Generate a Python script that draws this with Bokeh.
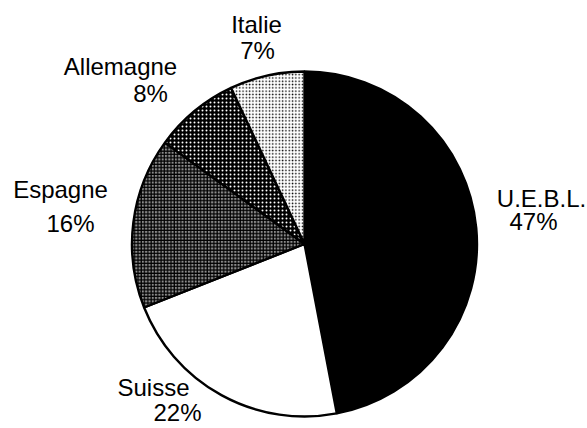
import math
from bokeh.plotting import figure
from bokeh.models import Range1d, ColumnDataSource
from bokeh.core.properties import value
from bokeh.embed import file_html
from bokeh.resources import INLINE

# ---- data ----
categories = ["U.E.B.L.", "Suisse", "Espagne", "Allemagne", "Italie"]
shares = [47, 22, 16, 8, 7]
pct_labels = ["47%", "22%", "16%", "8%", "7%"]

# ---- styles ----
fills = ["#000000", "#ffffff", "#8c8c8c", "#000000", "#ffffff"]
hatches = [" ", " ", "cross", "dot", "dot"]
hatch_colors = ["#000000", "#000000", "#000000", "#ffffff", "#000000"]
hatch_scales = [4, 4, 3.3, 4, 3.3]
hatch_weights = [1, 1, 1.2, 0.9, 2.4]

# label layout (page coords: center x, baseline y)
name_pos = [(541, 207), (153, 396), (60, 198), (120, 75), (256, 33)]
pct_pos = [(533, 230), (177, 421), (70, 232), (150, 102), (257, 59)]
TEXT_SHIFT = 9  # svg baseline compensation (px)

W, H = 587, 428

p = figure(width=W, height=H, output_backend="svg", toolbar_location=None,
           x_range=Range1d(0, W), y_range=Range1d(0, H),
           x_axis_location=None, y_axis_location=None, min_border=0,
           outline_line_color=None, background_fill_color="white",
           border_fill_color="white")
p.xgrid.visible = False
p.ygrid.visible = False

cx, cy, R = 304, H - 243.5, 172.5
total = sum(shares)
starts, ends = [], []
cum = 0
for s in shares:
    starts.append(math.pi / 2 - 2 * math.pi * cum / total)
    cum += s
    ends.append(math.pi / 2 - 2 * math.pi * cum / total)

src = ColumnDataSource(dict(start=starts, end=ends, fill=fills, hp=hatches,
                            hc=hatch_colors, hs=hatch_scales, hw=hatch_weights))
p.wedge(x=cx, y=cy, radius=R, start_angle="start", end_angle="end",
        direction="clock", fill_color="fill", hatch_pattern="hp",
        hatch_color="hc", hatch_scale="hs", hatch_weight="hw",
        line_color="black", line_width=2.4, source=src)

tsrc = ColumnDataSource(dict(
    x=[q[0] for q in name_pos] + [q[0] for q in pct_pos],
    y=[H - q[1] + TEXT_SHIFT for q in name_pos] + [H - q[1] + TEXT_SHIFT for q in pct_pos],
    t=categories + pct_labels))
p.text(x="x", y="y", text="t", source=tsrc, text_align="center",
       text_baseline="alphabetic", text_font=value("Liberation Sans"),
       text_font_size="24px", text_color="black")

open("out.html", "w").write(file_html(p, INLINE))
